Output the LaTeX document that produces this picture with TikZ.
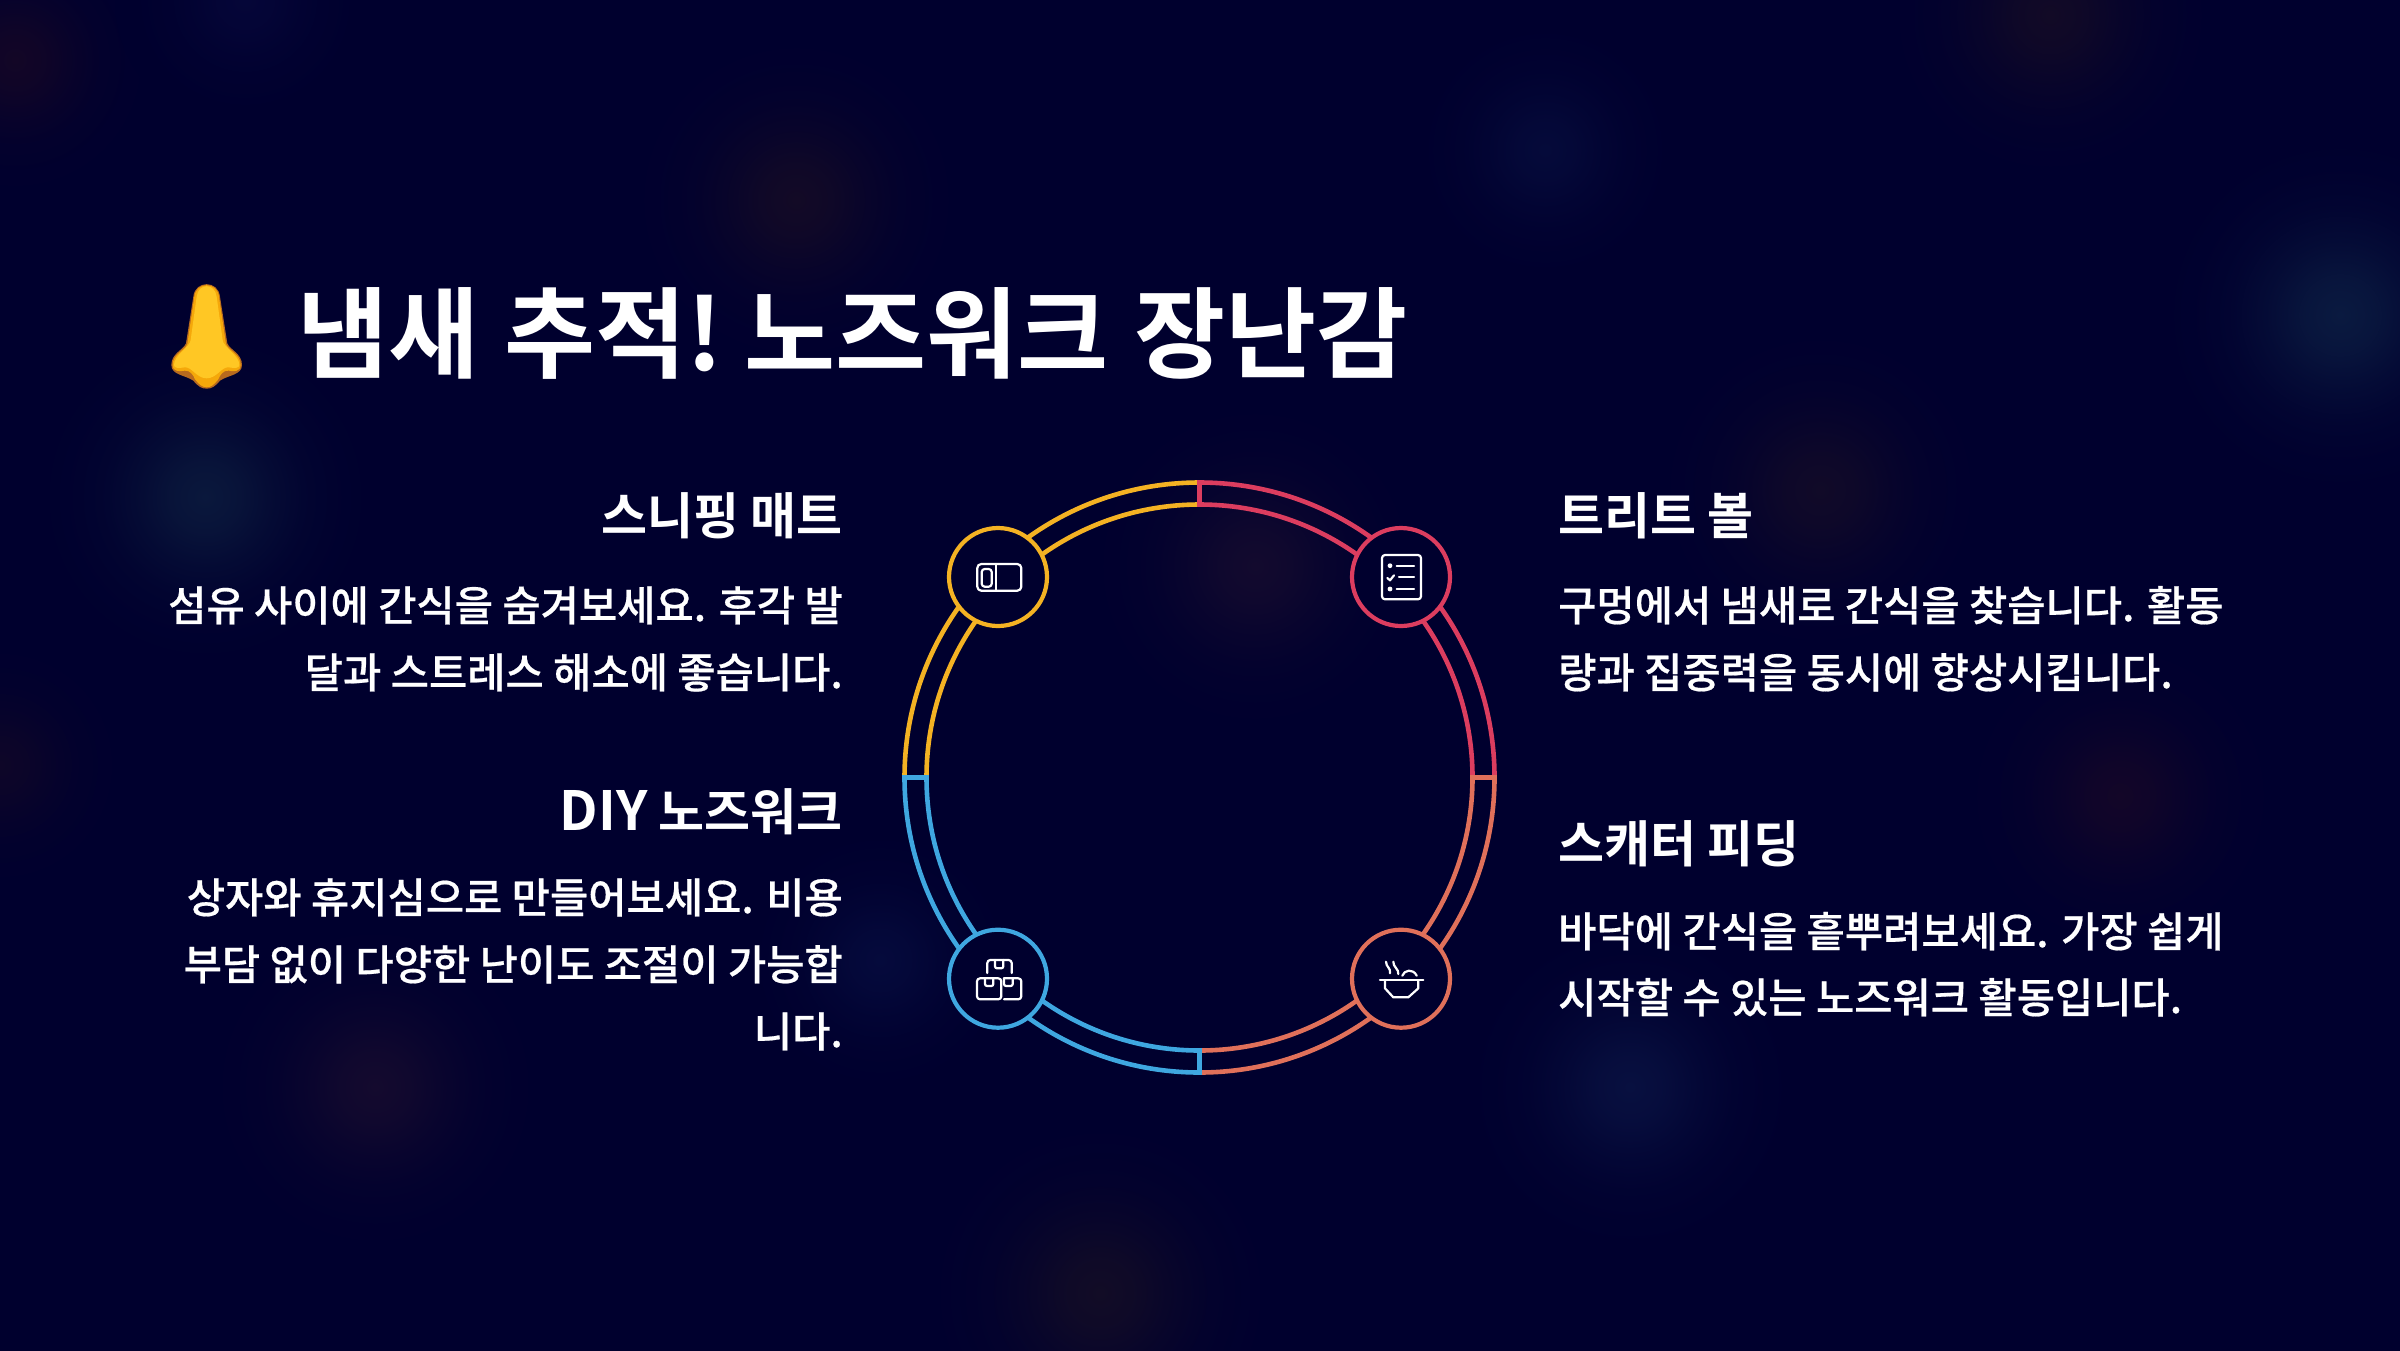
\documentclass[tikz,border=0pt]{standalone}
\usepackage{fontspec}
\usetikzlibrary{calc}
\newfontfamily\krbold{Noto Sans CJK KR Bold}
\newfontfamily\krmed{Noto Sans CJK KR Medium}[FakeBold=0.5]
\definecolor{bgc}{HTML}{00002E}
\definecolor{cyel}{HTML}{F4B223}
\definecolor{cred}{HTML}{DC3D5F}
\definecolor{cora}{HTML}{E0705A}
\definecolor{cblu}{HTML}{3FA7E0}
\definecolor{nbrown}{RGB}{184,106,30}
\definecolor{namber}{RGB}{245,168,10}
\definecolor{nyel}{RGB}{255,199,36}
\tikzset{
  x=1pt,y=-1pt,
  headr/.style={inner sep=0pt,anchor=base east,text=white,font=\krbold\fontsize{50}{50}\selectfont},
  headl/.style={inner sep=0pt,anchor=base west,text=white,font=\krbold\fontsize{50}{50}\selectfont},
  bodyr/.style={inner sep=0pt,anchor=base east,text=white,font=\krmed\fontsize{41.6}{41.6}\selectfont},
  bodyl/.style={inner sep=0pt,anchor=base west,text=white,font=\krmed\fontsize{41.6}{41.6}\selectfont},
  ring/.style={line width=4.6pt,line join=miter},
  hub/.style={circle,line width=4.2pt,fill=bgc,minimum size=98pt,inner sep=0pt},
  ico/.style={draw=white,line width=2.2pt,line cap=round,line join=round},
}
\newcommand{\blobat}[5]{%
  \definecolor{tb}{HTML}{#4}%
  \pgfdeclareradialshading{bl#5}{\pgfpoint{0bp}{0bp}}{%
    color(0bp)=(tb); color(5bp)=(tb!80!bgc); color(10bp)=(tb!45!bgc);
    color(15bp)=(tb!18!bgc); color(20bp)=(tb!5!bgc); color(25bp)=(bgc); color(50bp)=(bgc)}%
  \shade[shading=bl#5] (#1,#2) circle[radius=#3];}
\newcommand{\sector}[3]{\draw[ring,draw=#3] ($(1199.5,777.5)+(#1:295)$) arc[start angle=#1,end angle=#2,radius=295] -- ($(1199.5,777.5)+(#2:273)$) arc[start angle=#2,end angle=#1,radius=273] -- cycle;}
\begin{document}
\begin{tikzpicture}
\useasboundingbox (0,0) rectangle (2400,1350);
\fill[bgc] (-10,-10) rectangle (2410,1360);
% soft background glows
\begin{scope}
\clip (-10,-10) rectangle (2410,1360);
\blobat{15}{60}{140}{130626}{a}
\blobat{245}{0}{130}{050638}{b}
\blobat{796}{200}{170}{130A26}{c}
\blobat{1545}{150}{140}{050A3A}{d}
\blobat{2050}{15}{170}{120A26}{e}
\blobat{2340}{315}{180}{0A1A40}{f}
\blobat{205}{497}{170}{0A183C}{g}
\blobat{1255}{566}{170}{130A2E}{h}
\blobat{1820}{490}{170}{110A28}{i}
\blobat{2120}{796}{160}{130628}{j}
\blobat{1630}{1087}{170}{081040}{k}
\blobat{375}{1087}{170}{140A2E}{l}
\blobat{1100}{1293}{180}{120C26}{m}
\blobat{0}{765}{130}{0E0628}{n}
\blobat{880}{960}{140}{050A3C}{o}
\end{scope}
% ring
\sector{180}{270}{cyel}
\sector{270}{360}{cred}
\sector{0}{90}{cora}
\sector{90}{180}{cblu}
% hubs
\node[hub,draw=cyel] (h1) at (998,577) {};
\node[hub,draw=cred] (h2) at (1401,577) {};
\node[hub,draw=cblu] (h3) at (998,978.7) {};
\node[hub,draw=cora] (h4) at (1401,978.7) {};
% icon 1
\draw[ico,rounded corners=4pt] (977.3,564) rectangle (1021.3,590.7);
\draw[ico] (996,564) -- (996,590.7);
\draw[ico,rounded corners=3pt] (981.7,569) rectangle (991.7,586.7);
% icon 2
\draw[ico,rounded corners=3pt] (1382,555) rectangle (1421,599.3);
\fill[white] (1390,565.7) circle[radius=2.4] (1390,589) circle[radius=2.4];
\draw[ico] (1396.7,565.7) -- (1414,565.7) (1399,577.3) -- (1414,577.3) (1396.7,589) -- (1414,589);
\draw[ico] (1387.3,578) -- (1390,580.3) -- (1394,575.3);
% icon 3
\draw[ico,rounded corners=3pt] (987.3,973) -- (987.3,960) -- (1011.7,960) -- (1011.7,973);
\draw[ico,rounded corners=2pt] (995,960) -- (995,968.3) -- (1003.3,968.3) -- (1003.3,960);
\draw[ico,rounded corners=3pt] (977,978.3) rectangle (1001.3,999.3);
\draw[ico,rounded corners=2pt] (985,978.3) -- (985,986) -- (993.3,986) -- (993.3,978.3);
\draw[ico,rounded corners=3pt] (1004,978.3) -- (1021.3,978.3) -- (1021.3,999.3) -- (1004,999.3);
\draw[ico,rounded corners=2pt] (1004,978.3) -- (1004,986) -- (1012.7,986) -- (1012.7,978.3);
% icon 4
\draw[ico] (1380,980.3) -- (1423.3,980.3);
\draw[ico] (1385,980.3) -- (1385,988.3) -- (1393.3,997.3) -- (1408.3,997.3) -- (1418.3,988.3) -- (1418.3,980.3);
\draw[ico] (1386,961.7) .. controls (1386,967) and (1391,968) .. (1390,973.3);
\draw[ico] (1393.3,961.7) .. controls (1393,967) and (1399,969) .. (1398.3,974);
\draw[ico] (1402.3,975.7) .. controls (1404,970) and (1413,968) .. (1416.7,975.7);
% nose emoji
\begin{scope}[shift={(140,260)},x=0.3333pt,y=-0.3333pt]
\fill[nbrown] (160,110) .. controls (165,60) and (235,60) .. (240,110) -- (262,250) .. controls (270,270) and (306,280) .. (306,315) .. controls (306,345) and (265,345) .. (240,362) .. controls (225,380) and (215,386) .. (200,386) .. controls (185,386) and (175,380) .. (160,362) .. controls (135,345) and (94,345) .. (94,315) .. controls (94,280) and (130,270) .. (138,250) -- cycle;
\fill[namber] (163,110) .. controls (168,64) and (232,64) .. (237,110) -- (258,252) .. controls (266,272) and (302,282) .. (302,315) .. controls (302,336) and (280,335) .. (266,332) .. controls (250,330) and (240,345) .. (235,358) .. controls (222,375) and (212,382) .. (200,382) .. controls (188,382) and (178,375) .. (165,358) .. controls (160,345) and (150,330) .. (134,332) .. controls (120,335) and (98,336) .. (98,315) .. controls (98,282) and (134,272) .. (142,252) -- cycle;
\fill[nyel] (170,110) .. controls (175,68) and (225,68) .. (230,110) -- (248,240) .. controls (250,262) and (298,285) .. (298,315) .. controls (298,325) and (285,325) .. (265,322) .. controls (245,320) and (230,355) .. (200,355) .. controls (170,355) and (155,320) .. (135,322) .. controls (115,325) and (102,325) .. (102,315) .. controls (102,285) and (150,262) .. (152,240) -- cycle;
\end{scope}
% title
\node[inner sep=0pt,anchor=base west,text=white,font=\krbold\fontsize{99}{99}\selectfont] (title) at (297,370) {냄새\kern3pt{} 추적!\kern-9pt{} 노즈워크\kern3pt{} 장난감};
% left column
\node[headr] (t1) at (843,534) {스니핑 매트};
\node[bodyr] (b1a) at (843,621) {섬유 사이에 간식을 숨겨보세요. 후각 발};
\node[bodyr] (b1b) at (843,688) {달과 스트레스 해소에 좋습니다.};
\node[headr] (t3) at (843,830) {{\fontsize{54}{54}\selectfont DIY} 노즈워크};
\node[bodyr] (b3a) at (843,913) {상자와 휴지심으로 만들어보세요. 비용};
\node[bodyr] (b3b) at (843,980) {부담 없이 다양한 난이도 조절이 가능합};
\node[bodyr] (b3c) at (843,1047) {니다.};
% right column
\node[headl] (t2) at (1558,534) {트리트 볼};
\node[bodyl] (b2a) at (1558,621) {구멍에서 냄새로 간식을 찾습니다. 활동};
\node[bodyl] (b2b) at (1558,688) {량과 집중력을 동시에 향상시킵니다.};
\node[headl] (t4) at (1558,862) {스캐터 피딩};
\node[bodyl] (b4a) at (1558,947) {바닥에 간식을 흩뿌려보세요. 가장 쉽게};
\node[bodyl] (b4b) at (1558,1013) {시작할 수 있는 노즈워크 활동입니다.};
\end{tikzpicture}
\end{document}
